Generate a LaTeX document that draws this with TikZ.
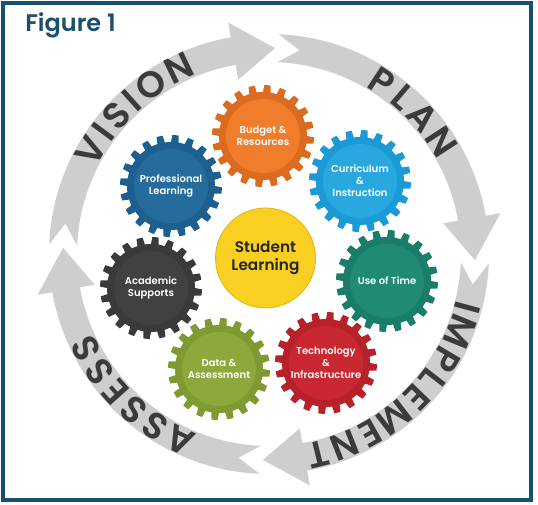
\documentclass[tikz,border=0pt]{standalone}
\usepackage{fontspec}
\setmainfont{Poppins}[BoldFont={Poppins SemiBold}]

\definecolor{framecol}{HTML}{1B4F6F}
\definecolor{ringgray}{HTML}{CDCED0}
\definecolor{arctext}{HTML}{3B3B3D}
\definecolor{budgetout}{HTML}{DB6B1F}
\definecolor{budgetin}{HTML}{EF7D2C}
\definecolor{currout}{HTML}{1C9AD6}
\definecolor{currin}{HTML}{29A8E0}
\definecolor{timeout}{HTML}{1A7C6A}
\definecolor{timein}{HTML}{208A75}
\definecolor{techout}{HTML}{B8202A}
\definecolor{techin}{HTML}{C92832}
\definecolor{dataout}{HTML}{7E9A30}
\definecolor{datain}{HTML}{8DA93C}
\definecolor{acadout}{HTML}{3A3A3C}
\definecolor{acadin}{HTML}{414143}
\definecolor{profout}{HTML}{1D5F8E}
\definecolor{profin}{HTML}{256C9C}
\definecolor{learnfill}{HTML}{F9CF22}
\definecolor{learnrim}{HTML}{E3B415}

% one gear: centre, tooth colour, disc colour
\newcommand{\gear}[3]{%
  \begin{scope}[shift={(#1)}]
    \fill[#2] (0:44) \foreach \t in {0,18,...,342} {
      arc[start angle=\t, end angle=\t+8, radius=44] -- (\t+9.5:51)
      arc[start angle=\t+9.5, end angle=\t+16.5, radius=51] -- (\t+18:44)} -- cycle;
    \fill[#3] (0,0) circle[radius=37];
  \end{scope}}

% one grey arrow of the cycle, tail at angle #1
\newcommand{\cyclearrow}[1]{%
  \fill[ringgray] (#1:220) arc[start angle=#1, end angle=#1-77.5, radius=220]
    -- (#1-77.5:235) -- (#1-89.2:206) -- (#1-77.5:177) -- (#1-77.5:192)
    arc[start angle=#1-77.5, end angle=#1, radius=192] -- (#1-6:206) -- cycle;}

\tikzset{
  arcletter/.style={inner sep=0pt, anchor=center, text=arctext,
    font=\fontsize{27.5}{27.5}\selectfont\bfseries},
  gearlabel/.style={inner sep=0pt, align=center, text=white,
    font=\fontsize{7.5}{9}\selectfont\bfseries},
}

\begin{document}
\begin{tikzpicture}[x=0.75pt,y=0.75pt]
  \useasboundingbox (0,0) rectangle (538,505);
  \draw[framecol, line width=3pt] (3,5) rectangle (531,502);
  \node[anchor=base west, inner sep=0pt, text=framecol,
    font=\fontsize{18}{18}\selectfont\bfseries] (title) at (25,473) {Figure 1};

  % the cycle
  \begin{scope}[shift={(269,251)}]
    \cyclearrow{177.5}
    \cyclearrow{87.5}
    \cyclearrow{-2.5}
    \cyclearrow{-92.5}
    \foreach \a/\l [count=\i] in {150/V,143.6/I,137.7/S,131.8/I,124.9/O,115.8/N}
      \node[arcletter, rotate=\a-90] (vision\i) at (\a:206) {\l};
    \foreach \a/\l [count=\i] in {56.8/P,49.4/L,41.8/A,32.9/N}
      \node[arcletter, rotate=\a-90] (plan\i) at (\a:206) {\l};
    \foreach \a/\l [count=\i] in {-15.2/I,-22.2/M,-30.9/P,-37.7/L,-44.1/E,-52.4/M,-60.7/E,-68.4/N,-76.2/T}
      \node[arcletter, rotate=\a-90] (implement\i) at (\a:206) {\l};
    \foreach \a/\l [count=\i] in {-115.5/A,-123.5/S,-131/S,-138.1/E,-145.3/S,-152.8/S}
      \node[arcletter, rotate=\a-90] (assess\i) at (\a:206) {\l};
  \end{scope}

  % gears
  \gear{263,369}{budgetout}{budgetin}
  \gear{360,324}{currout}{currin}
  \gear{387,224}{timeout}{timein}
  \gear{326,142}{techout}{techin}
  \gear{219,136}{dataout}{datain}
  \gear{151,217}{acadout}{acadin}
  \gear{171,319}{profout}{profin}

  \node[gearlabel] (budget) at (263,369) {Budget \&\\Resources};
  \node[gearlabel] (curriculum) at (360,324) {Curriculum\\\&\\Instruction};
  \node[gearlabel] (time) at (387,224) {Use of Time};
  \node[gearlabel] (technology) at (326,142) {Technology\\\&\\Infrastructure};
  \node[gearlabel] (data) at (219,136) {Data \&\\Assessment};
  \node[gearlabel] (academic) at (151,217) {Academic\\Supports};
  \node[gearlabel] (professional) at (171,319) {Professional\\Learning};

  \node[circle, minimum size=75pt, inner sep=0pt, fill=learnfill, draw=learnrim,
    line width=0.6pt, align=center, text=black!85,
    font=\fontsize{11.5}{14}\selectfont\bfseries] (student) at (265.5,247)
    {Student\\Learning};
\end{tikzpicture}
\end{document}
